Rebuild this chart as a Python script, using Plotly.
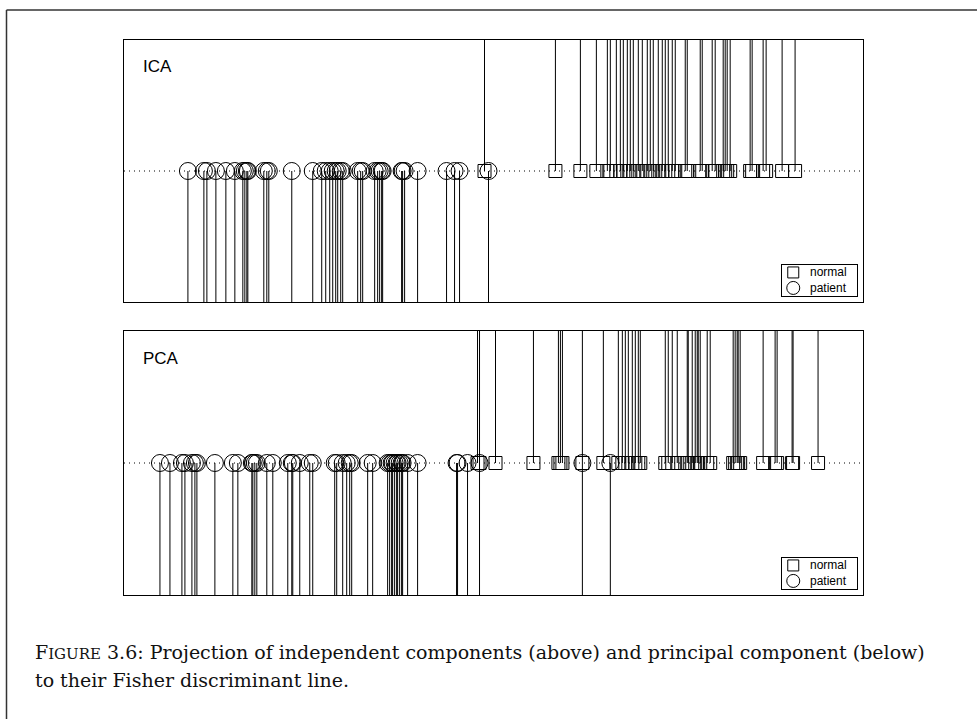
import plotly.graph_objects as go

# Projections onto the Fisher discriminant line (arbitrary units)
ica_normal = [-0.09, 0.62, 0.87, 1.03, 1.14, 1.17, 1.23, 1.27, 1.30, 1.34, 1.37, 1.40,
              1.45, 1.49, 1.54, 1.57, 1.60, 1.65, 1.69, 1.72, 1.75, 1.79, 1.82, 1.92,
              1.94, 2.07, 2.09, 2.19, 2.22, 2.30, 2.32, 2.34, 2.37, 2.57, 2.59, 2.70,
              2.73, 2.89, 3.02]
ica_patient = [-3.06, -2.90, -2.87, -2.78, -2.68, -2.59, -2.51, -2.49, -2.47, -2.46,
               -2.30, -2.27, -2.25, -2.02, -1.81, -1.72, -1.68, -1.64, -1.61, -1.58,
               -1.56, -1.53, -1.51, -1.36, -1.33, -1.31, -1.19, -1.16, -1.14, -1.12,
               -1.11, -0.92, -0.91, -0.89, -0.76, -0.47, -0.39, -0.34, -0.05]

pca_normal = [-0.16, -0.14, 0.02, 0.40, 0.65, 0.67, 0.69, 0.89, 1.10, 1.25, 1.29, 1.32,
              1.35, 1.39, 1.42, 1.45, 1.47, 1.72, 1.75, 1.79, 1.84, 1.94, 1.95, 1.99,
              2.02, 2.04, 2.05, 2.07, 2.14, 2.17, 2.40, 2.42, 2.44, 2.45, 2.47, 2.70,
              2.82, 2.84, 2.99, 3.00, 3.25]
pca_patient = [-3.34, -3.24, -3.12, -3.09, -3.02, -2.99, -2.97, -2.79, -2.61, -2.56,
               -2.42, -2.41, -2.39, -2.37, -2.27, -2.21, -2.06, -2.02, -2.01, -1.94,
               -1.84, -1.81, -1.59, -1.57, -1.51, -1.47, -1.44, -1.42, -1.26, -1.21,
               -1.06, -1.04, -1.02, -1.01, -0.99, -0.97, -0.96, -0.94, -0.92, -0.91,
               -0.86, -0.76, -0.37, -0.36, -0.26, -0.14, 0.89, 1.17]

panel_titles = ["ICA", "PCA"]
legend_labels = ["normal", "patient"]
caption_line1 = ('F<span style="font-size:15px">IGURE</span> 3.6: Projection of independent '
                 'components (above) and principal component (below)')
caption_line2 = "to their Fisher discriminant line."

X_RANGE = [-3.7, 3.7]
FW, FH = 977, 719
SQUARE = dict(symbol="square-open", size=13, color="black", line=dict(width=1, color="black"))
CIRCLE = dict(symbol="circle-open", size=17, color="black", line=dict(width=1, color="black"))
SQUARE_KEY = dict(SQUARE, size=11)
CIRCLE_KEY = dict(CIRCLE, size=13)


def stems(xs, top):
    px, py = [], []
    for v in xs:
        px += [v, v, None]
        py += [0, top, None]
    return px, py


fig = go.Figure()

panels = [
    (ica_normal, ica_patient, "x", "y"),
    (pca_normal, pca_patient, "x2", "y2"),
]

for normal, patient, xa, ya in panels:
    # dotted discriminant line
    fig.add_trace(go.Scatter(x=X_RANGE, y=[0, 0], mode="lines", xaxis=xa, yaxis=ya,
                             line=dict(color="black", width=1, dash="1px,4px"),
                             hoverinfo="skip"))
    sx, sy = stems(normal, 1)
    fig.add_trace(go.Scatter(x=sx, y=sy, mode="lines", xaxis=xa, yaxis=ya,
                             line=dict(color="black", width=1), hoverinfo="skip"))
    sx, sy = stems(patient, -1)
    fig.add_trace(go.Scatter(x=sx, y=sy, mode="lines", xaxis=xa, yaxis=ya,
                             line=dict(color="black", width=1), hoverinfo="skip"))
    fig.add_trace(go.Scatter(x=normal, y=[0] * len(normal), mode="markers",
                             xaxis=xa, yaxis=ya, name=legend_labels[0], marker=SQUARE))
    fig.add_trace(go.Scatter(x=patient, y=[0] * len(patient), mode="markers",
                             xaxis=xa, yaxis=ya, name=legend_labels[1], marker=CIRCLE))

# legend keys: small boxed axes in the lower-right corner of each panel
KEY_POS = [0.15, 0.35]         # x of symbol, x of label (key-box units)
KEY_ROWS = [0.76, 0.26]        # y of the two rows (key-box units)
for xa, ya in [("x3", "y3"), ("x4", "y4")]:
    fig.add_trace(go.Scatter(x=[KEY_POS[0]], y=[KEY_ROWS[0]], mode="markers",
                             xaxis=xa, yaxis=ya, marker=SQUARE_KEY, hoverinfo="skip"))
    fig.add_trace(go.Scatter(x=[KEY_POS[0]], y=[KEY_ROWS[1]], mode="markers",
                             xaxis=xa, yaxis=ya, marker=CIRCLE_KEY, hoverinfo="skip"))
    for lab, ry in zip(legend_labels, KEY_ROWS):
        fig.add_annotation(text=lab, xref=xa, yref=ya, x=KEY_POS[1], y=ry,
                           xanchor="left", yanchor="middle", showarrow=False,
                           font=dict(family="Liberation Sans", size=12, color="black"))

x_dom = [124 / FW, 863 / FW]
ica_dom = [1 - 302 / FH, 1 - 40 / FH]
pca_dom = [1 - 595 / FH, 1 - 331 / FH]
key_x = [782 / FW, 857 / FW]
ica_key = [1 - 296 / FH, 1 - 265 / FH]
pca_key = [1 - 589 / FH, 1 - 558 / FH]

frame = dict(showline=True, mirror=True, linecolor="black", linewidth=1,
             showticklabels=False, ticks="", showgrid=False, zeroline=False,
             fixedrange=True)

fig.update_layout(
    width=FW, height=FH,
    margin=dict(l=0, r=0, t=0, b=0),
    paper_bgcolor="white", plot_bgcolor="white",
    showlegend=False,
    xaxis=dict(domain=x_dom, anchor="y", range=X_RANGE, **frame),
    yaxis=dict(domain=ica_dom, anchor="x", range=[-1, 1], **frame),
    xaxis2=dict(domain=x_dom, anchor="y2", range=X_RANGE, **frame),
    yaxis2=dict(domain=pca_dom, anchor="x2", range=[-1, 1], **frame),
    xaxis3=dict(domain=key_x, anchor="y3", range=[0, 1], **frame),
    yaxis3=dict(domain=ica_key, anchor="x3", range=[0, 1], **frame),
    xaxis4=dict(domain=key_x, anchor="y4", range=[0, 1], **frame),
    yaxis4=dict(domain=pca_key, anchor="x4", range=[0, 1], **frame),
)

# panel names
for title, top in zip(panel_titles, [40, 331]):
    fig.add_annotation(text=title, xref="paper", yref="paper", x=141 / FW,
                       y=1 - (top + 27) / FH, xanchor="left", yanchor="middle",
                       showarrow=False,
                       font=dict(family="Liberation Sans", size=17, color="black"))

# caption
for line, yc in [(caption_line1, 652), (caption_line2, 680)]:
    fig.add_annotation(text=line, xref="paper", yref="paper", x=33 / FW, y=1 - yc / FH,
                       xanchor="left", yanchor="middle", showarrow=False, align="left",
                       font=dict(family="DejaVu Serif", size=19, color="#111111"))

# page frame
fig.add_shape(type="line", xref="paper", yref="paper", x0=6.5 / FW, x1=1.01,
              y0=1 - 10 / FH, y1=1 - 10 / FH, line=dict(color="#333333", width=1.5))
fig.add_shape(type="line", xref="paper", yref="paper", x0=6.5 / FW, x1=6.5 / FW,
              y0=1 - 10 / FH, y1=-0.01, line=dict(color="#333333", width=1.5))

fig.write_html("out.html")
